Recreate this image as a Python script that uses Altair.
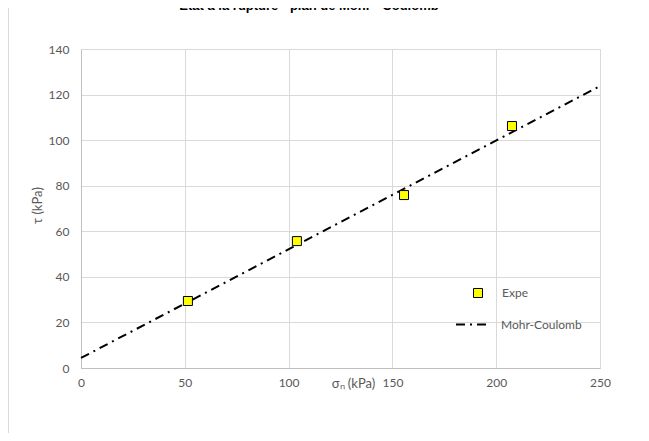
import altair as alt
import pandas as pd

# Experimental points (sigma_n, tau) in kPa
sigma_exp = [51.5, 104.0, 155.6, 207.6]
tau_exp = [29.4, 55.7, 75.9, 106.2]

# Mohr-Coulomb fitted line endpoints
sigma_mc = [0, 250]
tau_mc = [4.4, 123.7]

x_ticks = [0, 50, 100, 150, 200, 250]
y_ticks = [0, 20, 40, 60, 80, 100, 120, 140]

title_text = "Etat à la rupture - plan de Mohr - Coulomb"

pts = pd.DataFrame({"sigma": sigma_exp, "tau": tau_exp, "serie": ["Expe"] * len(sigma_exp)})
mc = pd.DataFrame({"sigma": sigma_mc, "tau": tau_mc, "serie": ["Mohr-Coulomb"] * len(sigma_mc)})
ttl = pd.DataFrame({"t": [title_text]})

FONT = "Lato"
GRAY = "#595959"

x_enc = alt.X(
    "sigma:Q",
    scale=alt.Scale(domain=[0, 250], nice=False),
    axis=alt.Axis(
        values=x_ticks,
        labelFlush=False,
        title="σₙ (kPa)",
        titleX=272,
        titleY=15,
        titleAlign="center",
        titleBaseline="middle",
        titleFontWeight="normal",
        titleFontSize=13,
        titleColor=GRAY,
        titleFont=FONT,
    ),
)
y_enc = alt.Y(
    "tau:Q",
    scale=alt.Scale(domain=[0, 140], nice=False),
    axis=alt.Axis(
        values=y_ticks,
        title="τ (kPa)",
        titleX=-44,
        titleY=156,
        titleAngle=-90,
        titleAlign="center",
        titleBaseline="middle",
        titleFontWeight="normal",
        titleFontSize=13,
        titleColor=GRAY,
        titleFont=FONT,
    ),
)

line = alt.Chart(mc).mark_line(color="black", strokeWidth=2).encode(
    x=x_enc,
    y=y_enc,
    strokeDash=alt.StrokeDash(
        "serie:N",
        scale=alt.Scale(domain=["Mohr-Coulomb"], range=[[9, 5, 2, 5]]),
        legend=alt.Legend(
            title=None,
            orient="none",
            legendX=374,
            legendY=257,
            symbolType="stroke",
            symbolSize=1225,
            symbolStrokeWidth=2,
            symbolStrokeColor="black",
            labelOffset=9,
            labelFontSize=12,
            labelColor=GRAY,
            labelFont=FONT,
            padding=0,
        ),
    ),
)

points = alt.Chart(pts).mark_point(
    shape="square", filled=True, fill="#ffff00",
    strokeWidth=1, size=81, opacity=1, fillOpacity=1,
).encode(
    x="sigma:Q",
    y="tau:Q",
    stroke=alt.Stroke(
        "serie:N",
        scale=alt.Scale(domain=["Expe"], range=["black"]),
        legend=alt.Legend(
            title=None,
            orient="none",
            legendX=391,
            legendY=238,
            symbolType="square",
            symbolSize=81,
            symbolFillColor="#ffff00",
            symbolStrokeWidth=1,
            symbolOpacity=1,
            labelOffset=18,
            labelFontSize=12,
            labelColor=GRAY,
            labelFont=FONT,
            padding=0,
        ),
    ),
)

# chart-area frame (left edge)
border_left = alt.Chart(ttl).mark_rule(color="#d9d9d9", strokeWidth=1).encode(
    x=alt.value(-72.5), y=alt.value(-41), y2=alt.value(392)
)

title_mark = alt.Chart(ttl).mark_text(
    fontSize=13, fontWeight="bold", font="Liberation Sans", color="black",
    align="center", baseline="alphabetic",
).encode(text="t:N", x=alt.value(228), y=alt.value(-39))

chart = alt.layer(border_left, line, points, title_mark).resolve_legend(
    stroke="independent", strokeDash="independent"
).properties(
    width=519,
    height=319,
    autosize=alt.AutoSizeParams(type="none"),
    padding={"left": 73, "top": 41, "right": 41, "bottom": 65},
).configure_view(
    stroke=None
).configure_axis(
    gridColor="#d9d9d9",
    domainColor="#bfbfbf",
    domainWidth=1,
    ticks=False,
    labelColor=GRAY,
    labelFont=FONT,
    labelFontSize=12,
).configure_axisX(
    labelPadding=9,
).configure_axisY(
    labelPadding=12,
)

chart.save("out.html", embed_options={"renderer": "svg", "actions": False})
